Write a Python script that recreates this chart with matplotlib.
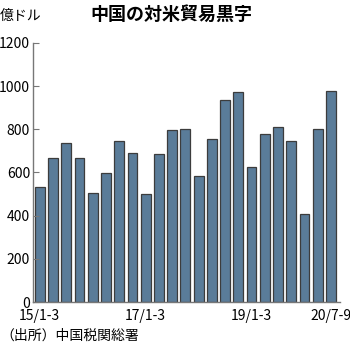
import numpy as np
import matplotlib.pyplot as plt

plt.rcParams['font.family'] = ['Noto Sans CJK JP', 'DejaVu Sans']

# quarterly surplus, 2015 Q1 .. 2020 Q3 (100 million USD)
quarters = ["15/1-3", "15/4-6", "15/7-9", "15/10-12",
            "16/1-3", "16/4-6", "16/7-9", "16/10-12",
            "17/1-3", "17/4-6", "17/7-9", "17/10-12",
            "18/1-3", "18/4-6", "18/7-9", "18/10-12",
            "19/1-3", "19/4-6", "19/7-9", "19/10-12",
            "20/1-3", "20/4-6", "20/7-9"]
surplus = [534, 668, 738, 668, 506, 599, 747, 690, 499, 687, 798, 801,
           584, 757, 936, 974, 627, 780, 809, 744, 409, 801, 978]
shown_labels = ["15/1-3", "17/1-3", "19/1-3", "20/7-9"]
yticks = [0, 200, 400, 600, 800, 1000, 1200]

fig = plt.figure(figsize=(3.5, 3.52), dpi=100)
ax = fig.add_axes([0.094, 0.142, 0.877, 0.736])

x = np.arange(len(quarters))
ax.bar(x, surplus, width=0.74, color='#5a7c99', edgecolor='#3c3c3c', linewidth=0.9)

ax.set_ylim(0, 1200)
ax.set_xlim(-0.52, len(quarters) - 0.33)
ax.set_yticks(yticks)
ax.set_yticklabels([str(v) for v in yticks], fontsize=10)
pos = [quarters.index(q) for q in shown_labels]
ax.set_xticks(pos)
ax.set_xticklabels(shown_labels, fontsize=10)

ax.tick_params(axis='y', direction='in', length=4, color='#777', pad=2)
ax.tick_params(axis='x', length=0, pad=5)
for s in ['top', 'right']:
    ax.spines[s].set_visible(False)
for s in ['left', 'bottom']:
    ax.spines[s].set_color('#777')
    ax.spines[s].set_linewidth(1.0)

fig.text(0.0, 0.955, "億ドル", fontsize=10, ha='left', va='center')
fig.text(0.49, 0.958, "中国の対米貿易黒字", fontsize=13, fontweight='bold',
         ha='center', va='center')
fig.text(0.0, 0.045, "（出所）中国税関総署", fontsize=10, ha='left', va='center')

fig.savefig("out.png", dpi=100)
